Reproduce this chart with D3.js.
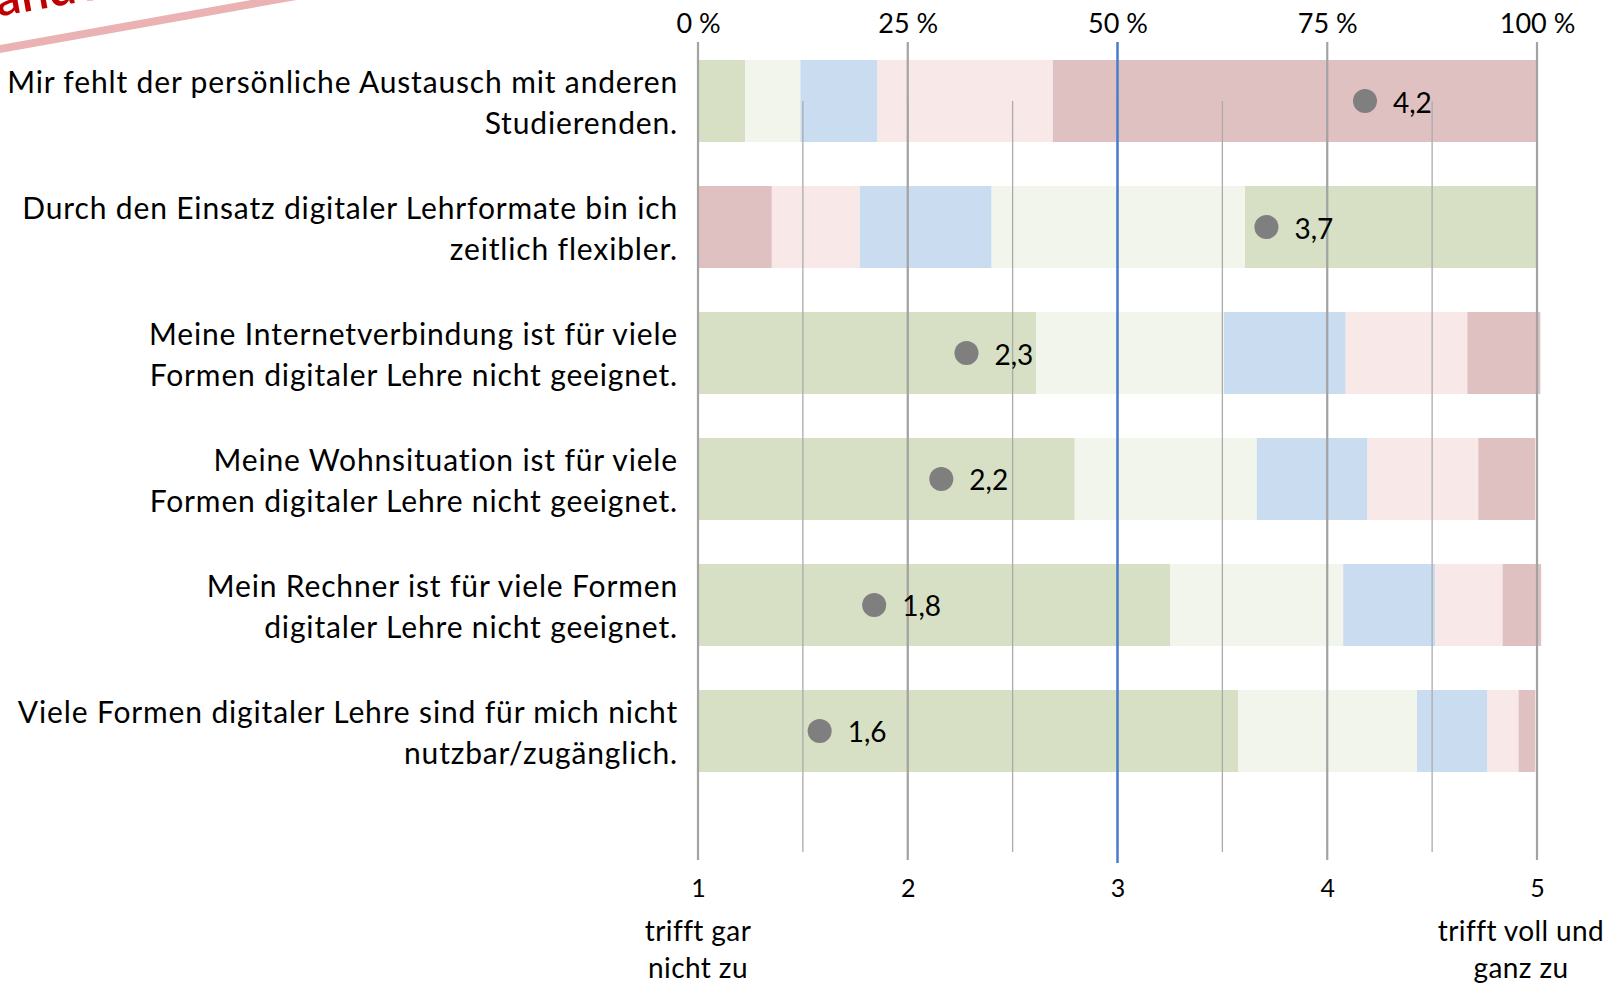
<!DOCTYPE html>
<html><head><meta charset="utf-8">
<script src="https://cdn.jsdelivr.net/npm/d3@7"></script>
<style>html,body{margin:0;padding:0;background:#fff;}svg{display:block;}</style>
</head><body>
<svg id="chart" width="1624" height="984"></svg>
<script>
// ---- data ----
const categories = [
  "Mir fehlt der persönliche Austausch mit anderen\nStudierenden.",
  "Durch den Einsatz digitaler Lehrformate bin ich\nzeitlich flexibler.",
  "Meine Internetverbindung ist für viele\nFormen digitaler Lehre nicht geeignet.",
  "Meine Wohnsituation ist für viele\nFormen digitaler Lehre nicht geeignet.",
  "Mein Rechner ist für viele Formen\ndigitaler Lehre nicht geeignet.",
  "Viele Formen digitaler Lehre sind für mich nicht\nnutzbar/zugänglich."
];
// share (%) of answers 1..5 per statement
const share1 = [5.6, 8.8, 40.3, 44.9, 56.3, 64.4];
const share2 = [6.6, 10.5, 22.4, 21.7, 20.6, 21.3];
const share3 = [9.2, 15.7, 14.5, 13.2, 11.0, 8.4];
const share4 = [20.9, 30.2, 14.5, 13.2, 8.0, 3.7];
const share5 = [57.7, 34.8, 8.7, 6.8, 4.6, 2.0];
const means = [4.18, 3.71, 2.28, 2.16, 1.84, 1.58];
const positiveStatement = [false, true, false, false, false, false];
const pctTicks = [0, 25, 50, 75, 100];
const scaleTicks = [1, 2, 3, 4, 5];
const gridTicks = [1, 1.5, 2, 2.5, 3, 3.5, 4, 4.5, 5];
const scaleEndLabels = [["trifft gar", "nicht zu"], ["trifft voll und", "ganz zu"]];
const colors = ["#D7DFC4", "#F2F5EB", "#CADCF0", "#F8E8E8", "#DFC1C2"];

// ---- chart ----
const svg = d3.select("#chart");
svg.append("rect").attr("width", 1624).attr("height", 984).attr("fill", "#fff");

const x = d3.scaleLinear().domain([1, 5]).range([698, 1537]);
const xp = d3.scaleLinear().domain([0, 100]).range([698, 1537]);
const y = d3.scaleBand().domain(d3.range(categories.length)).range([60, 772]).paddingInner(0.349).paddingOuter(0);

const shares = [share1, share2, share3, share4, share5];
const rows = categories.map((c, i) => {
  let acc = 0;
  return shares.map((s, k) => {
    const seg = {i, k, x0: acc, x1: acc + s[i],
      color: positiveStatement[i] ? colors[4 - k] : colors[k]};
    acc += s[i];
    return seg;
  });
});

const font = "Lato, 'Open Sans', sans-serif";

// bars
svg.append("g").selectAll("rect").data(rows.flat()).join("rect")
  .attr("x", d => xp(d.x0))
  .attr("width", d => xp(d.x1) - xp(d.x0))
  .attr("y", d => y(d.i))
  .attr("height", y.bandwidth())
  .attr("fill", d => d.color);

// scale gridlines
svg.append("g").selectAll("line").data(gridTicks).join("line")
  .attr("x1", d => x(d)).attr("x2", d => x(d))
  .attr("y1", y(0) + y.bandwidth() / 2).attr("y2", 852)
  .attr("stroke", "#ABABAB").attr("stroke-width", 1.3);

// percent gridlines
svg.append("g").selectAll("line").data(pctTicks).join("line")
  .attr("x1", d => xp(d)).attr("x2", d => xp(d))
  .attr("y1", 42).attr("y2", d => d === 50 ? 863 : 860)
  .attr("stroke", d => d === 50 ? "#4A7BCB" : "#A3A3A3")
  .attr("stroke-width", d => d === 50 ? 2.5 : 2.2);

// top axis labels
const topAxis = d3.axisTop(xp).tickValues(pctTicks).tickFormat(d => d + " %").tickSize(0).tickPadding(0);
const gTop = svg.append("g").attr("transform", "translate(0,33)").call(topAxis);
gTop.select(".domain").remove();
gTop.selectAll("text").attr("font-family", font).attr("font-size", 27).attr("font-weight", 400).attr("fill", "#000").attr("dy", 0);

// bottom axis labels
const botAxis = d3.axisBottom(x).tickValues(scaleTicks).tickFormat(d3.format("d")).tickSize(0).tickPadding(0);
const gBot = svg.append("g").attr("transform", "translate(0,879)").call(botAxis);
gBot.select(".domain").remove();
gBot.selectAll("text").attr("font-family", font).attr("font-size", 25).attr("font-weight", 400).attr("fill", "#000");

// scale end labels
const endPos = [x(1), x(5) - 16];
scaleEndLabels.forEach((lines, j) => {
  svg.append("text")
    .attr("text-anchor", "middle").attr("font-family", font).attr("font-size", 28).attr("font-weight", 400)
    .attr("letter-spacing", 0.4).attr("fill", "#000")
    .selectAll("tspan").data(lines).join("tspan")
    .attr("x", endPos[j]).attr("y", (d, k) => 941 + k * 37).text(d => d);
});

// category labels
svg.append("g").selectAll("text").data(categories).join("text")
  .attr("text-anchor", "end").attr("font-family", font).attr("font-size", 30).attr("font-weight", 400)
  .attr("letter-spacing", 0.85).attr("fill", "#000")
  .each(function (d, i) {
    const cy = y(i) + y.bandwidth() / 2;
    d3.select(this).selectAll("tspan").data(d.split("\n")).join("tspan")
      .attr("x", 678).attr("y", (t, k) => cy - 8 + k * 41).text(t => t);
  });

// mean dots + labels
const fmt = v => v.toFixed(1).replace(".", ",");
svg.append("g").selectAll("circle").data(means).join("circle")
  .attr("cx", d => x(d)).attr("cy", (d, i) => y(i) + y.bandwidth() / 2)
  .attr("r", 12).attr("fill", "#7F7F7F");
svg.append("g").selectAll("text").data(means).join("text")
  .attr("x", d => x(d) + 28).attr("y", (d, i) => y(i) + y.bandwidth() / 2 + 11.5)
  .attr("font-family", font).attr("font-size", 28).attr("font-weight", 400).attr("fill", "#000")
  .text(d => fmt(d));

// decorative stamp remnant top-left
svg.append("line").attr("x1", -10).attr("y1", 50.8).attr("x2", 300).attr("y2", -4.7)
  .attr("stroke", "#EAB2B3").attr("stroke-width", 8);
svg.append("text").attr("transform", "translate(-2,16.5) rotate(-10)")
  .attr("font-family", font).attr("font-size", 50).attr("font-weight", 600).attr("fill", "#C00000")
  .text("anders");
</script>
</body></html>
